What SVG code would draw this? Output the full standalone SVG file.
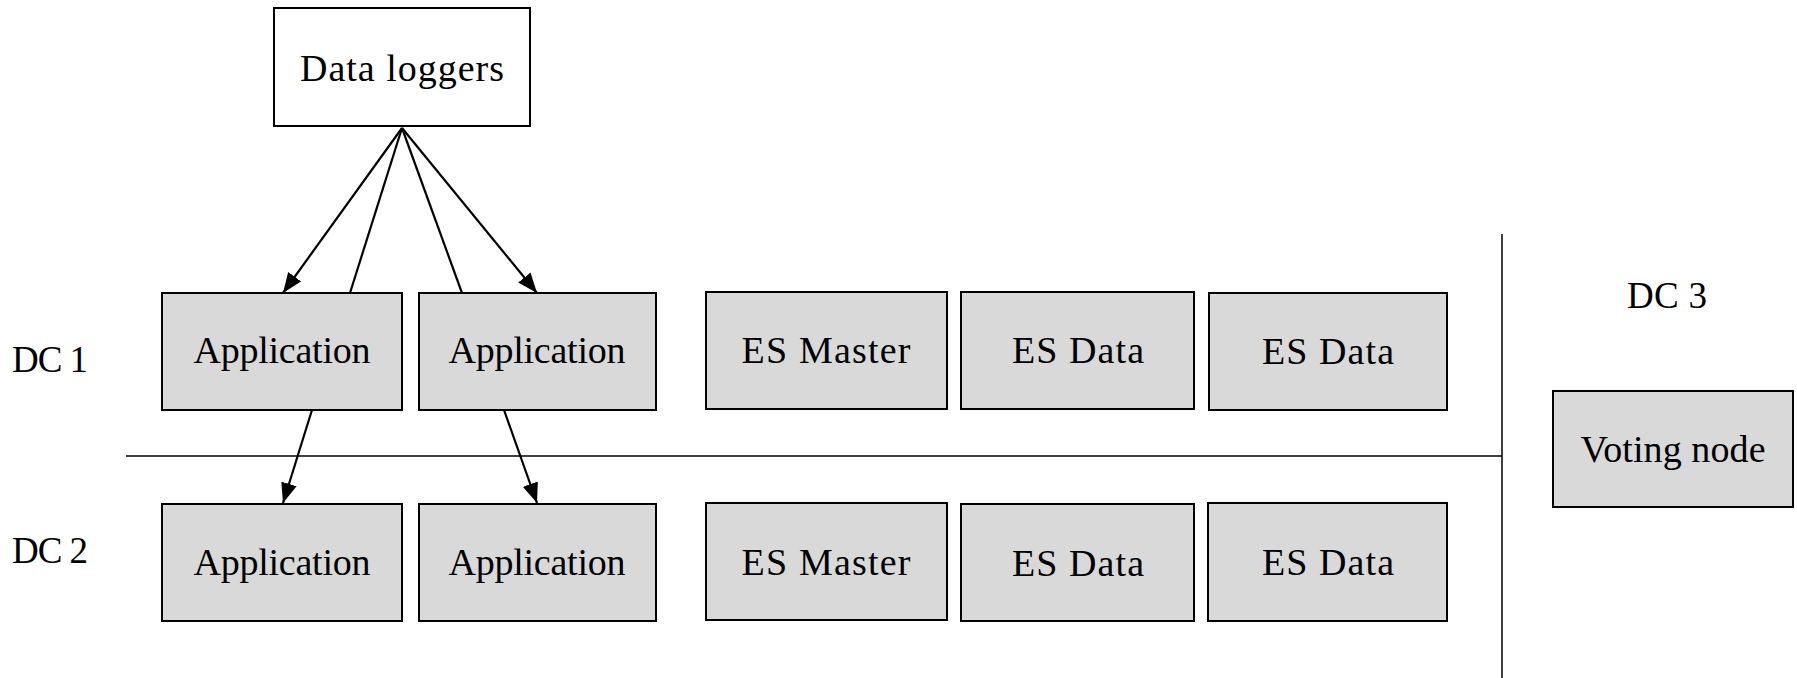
<svg xmlns="http://www.w3.org/2000/svg" width="1797" height="678" viewBox="0 0 1797 678">
<style>
.box{fill:#d9d9d9;stroke:#000;stroke-width:2}
.wbox{fill:#fff;stroke:#000;stroke-width:2}
.t{font-family:"Liberation Serif",serif;font-size:38px;fill:#000;text-anchor:middle}
.lbl{font-family:"Liberation Serif",serif;font-size:37px;fill:#000}
.c{stroke:#000;stroke-width:2.2;fill:none}
.div{stroke:#000;stroke-width:1.5}
</style>
<defs>
<marker id="ah" markerUnits="userSpaceOnUse" markerWidth="20" markerHeight="16" viewBox="0 0 20 16" refX="20" refY="8" orient="auto">
<path d="M0,0 L20,8 L0,16 Z" fill="#000"/>
</marker>
</defs>
<rect width="1797" height="678" fill="#fff"/>
<g id="dividers">
<line class="div" x1="126" y1="456" x2="1502" y2="456"/>
<line class="div" x1="1502" y1="234" x2="1502" y2="678"/>
</g>
<g id="labels">
<text class="lbl" x="12" y="372" textLength="76">DC 1</text>
<text class="lbl" x="12" y="563" textLength="76">DC 2</text>
<text class="lbl" x="1627" y="308" textLength="80">DC 3</text>
</g>
<g id="n-loggers"><rect class="wbox" x="274" y="8" width="256" height="118"/><text class="t" x="402" y="81" textLength="204">Data loggers</text></g>
<g id="n-app11"><rect class="box" x="162" y="293" width="240" height="117"/><text class="t" x="282" y="363" textLength="177">Application</text></g>
<g id="n-app12"><rect class="box" x="419" y="293" width="237" height="117"/><text class="t" x="537" y="363" textLength="177">Application</text></g>
<g id="n-esm1"><rect class="box" x="706" y="292" width="241" height="117"/><text class="t" x="826" y="363" textLength="169">ES Master</text></g>
<g id="n-esd11"><rect class="box" x="961" y="292" width="233" height="117"/><text class="t" x="1078" y="363" textLength="132">ES Data</text></g>
<g id="n-esd12"><rect class="box" x="1209" y="293" width="238" height="117"/><text class="t" x="1328" y="364" textLength="132">ES Data</text></g>
<g id="n-app21"><rect class="box" x="162" y="504" width="240" height="117"/><text class="t" x="282" y="575" textLength="177">Application</text></g>
<g id="n-app22"><rect class="box" x="419" y="504" width="237" height="117"/><text class="t" x="537" y="575" textLength="177">Application</text></g>
<g id="n-esm2"><rect class="box" x="706" y="503" width="241" height="117"/><text class="t" x="826" y="575" textLength="169">ES Master</text></g>
<g id="n-esd21"><rect class="box" x="961" y="504" width="233" height="117"/><text class="t" x="1078" y="576" textLength="132">ES Data</text></g>
<g id="n-esd22"><rect class="box" x="1208" y="503" width="239" height="118"/><text class="t" x="1328" y="575" textLength="132">ES Data</text></g>
<g id="n-voting"><rect class="box" x="1553" y="391" width="240" height="116"/><text class="t" x="1673" y="462" textLength="185">Voting node</text></g>
<g id="connectors">
<line class="c" x1="402" y1="128" x2="283" y2="293" marker-end="url(#ah)"/>
<line class="c" x1="402" y1="128" x2="350" y2="293"/>
<line class="c" x1="402" y1="128" x2="462" y2="293"/>
<line class="c" x1="402" y1="128" x2="537" y2="293" marker-end="url(#ah)"/>
<line class="c" x1="312" y1="410" x2="283" y2="503" marker-end="url(#ah)"/>
<line class="c" x1="504" y1="410" x2="537" y2="503" marker-end="url(#ah)"/>
</g>
</svg>
